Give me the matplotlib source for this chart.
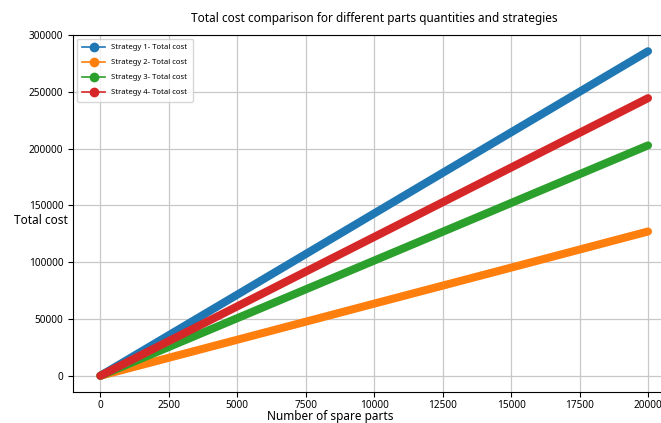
import numpy as np
import matplotlib.pyplot as plt
from matplotlib.lines import Line2D

plt.rcParams['font.family'] = ['Noto Sans', 'DejaVu Sans']

# spare parts quantities
parts = [0, 5000, 10000, 15000, 20000]
# total cost per strategy
cost_s1 = [0, 71400, 142900, 214300, 285700]
cost_s2 = [0, 31700, 63500, 95200, 127000]
cost_s3 = [0, 50700, 101400, 152100, 202800]
cost_s4 = [0, 61100, 122200, 183300, 244400]
labels = ['Strategy 1- Total cost', 'Strategy 2- Total cost',
          'Strategy 3- Total cost', 'Strategy 4- Total cost']
colors = ['#1f77b4', '#ff7f0e', '#2ca02c', '#d62728']

fig = plt.figure(figsize=(6.61, 4.23), dpi=100)
ax = fig.add_axes([0.1104, 0.0733, 0.9114, 0.844])

handles = []
for y, lab, c in zip([cost_s1, cost_s2, cost_s3, cost_s4], labels, colors):
    # dense markers in the original render as one thick rounded stroke
    ax.plot(parts, y, color=c, lw=5.8, solid_capstyle='round')
    handles.append(Line2D([], [], color=c, marker='o', lw=1.2, ms=6, label=lab))

ax.set_xticks(np.arange(0, 20001, 2500))
ax.set_yticks(np.arange(0, 300001, 50000))
ax.tick_params(labelsize=7.2)
ax.tick_params(axis='x', pad=2)
ax.grid(True, color='#c8c8c8', lw=0.9)
ax.set_xlabel('Number of spare parts', fontsize=8.5, va='top')
ax.xaxis.set_label_coords(0.427, -0.05)
ax.set_ylabel('Total cost', fontsize=8.5, rotation=0, ha='right', va='center')
ax.yaxis.set_label_coords(-0.008, 0.479)
ax.set_title('Total cost comparison for different parts quantities and strategies',
             fontsize=8.5, pad=9)
ax.legend(handles=handles, loc='upper left', fontsize=5.5, labelspacing=1.0,
          handlelength=3.0, handletextpad=0.8, borderpad=0.7)

fig.savefig('out.png', dpi=100)
